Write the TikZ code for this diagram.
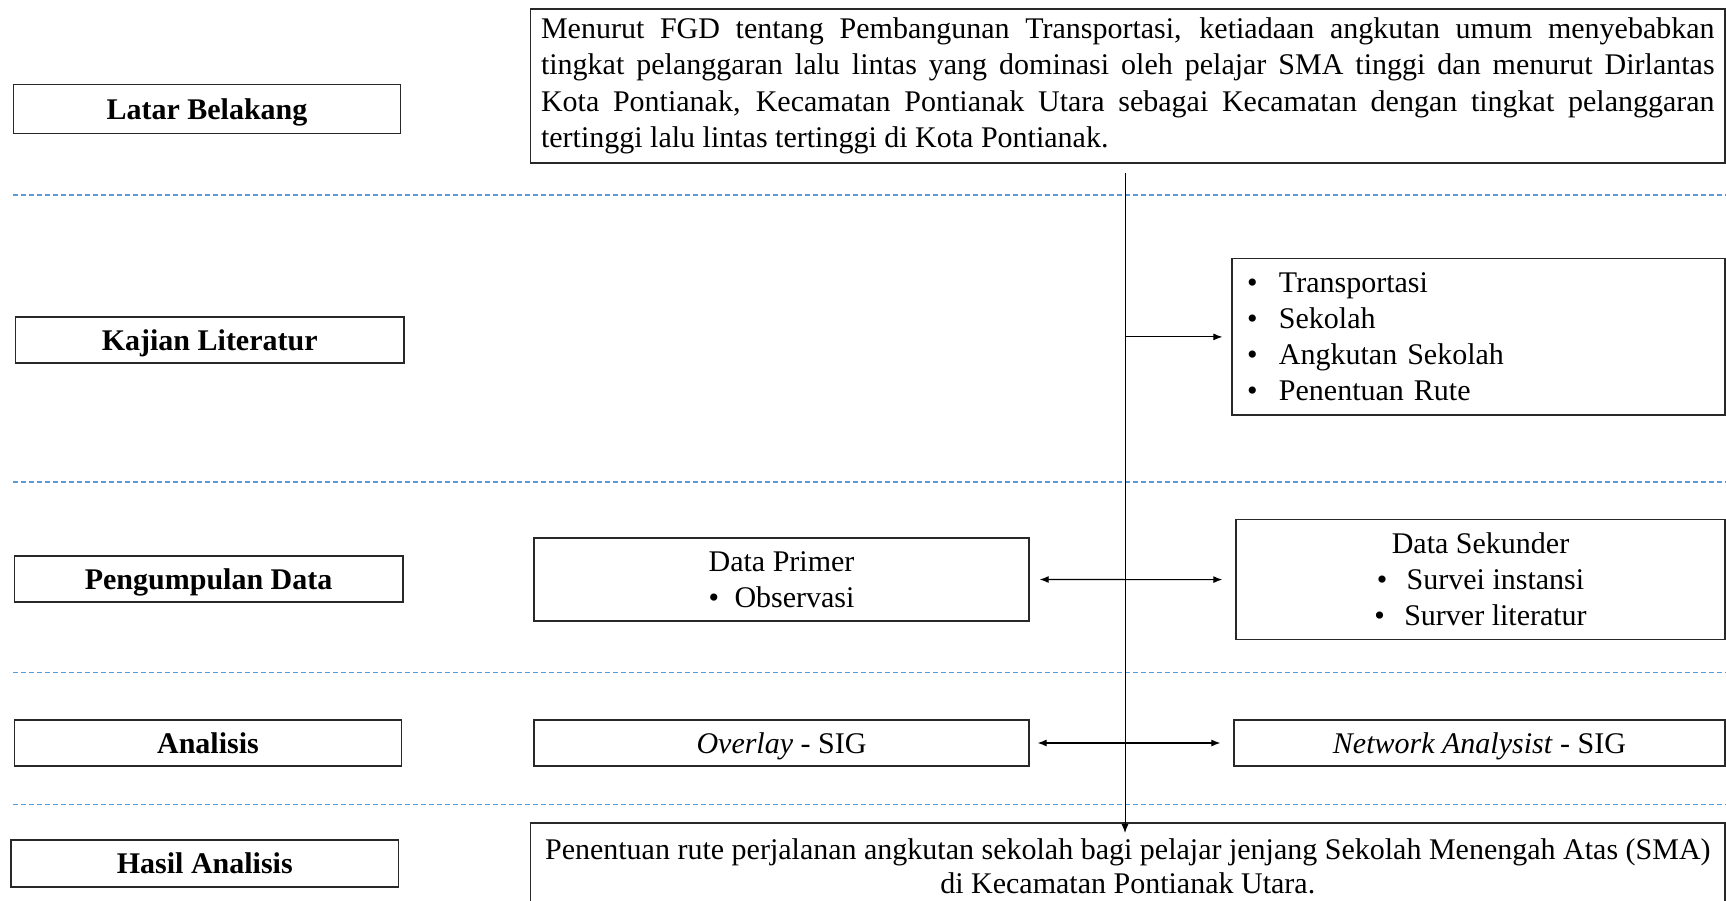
\documentclass[tikz,border=0pt]{standalone}
\usepackage{fontspec}
\setmainfont{Liberation Serif}
\usetikzlibrary{arrows.meta}
\definecolor{dashblue}{RGB}{91,155,213}
\definecolor{boxline}{RGB}{40,40,40}
\tikzset{
  every node/.style={font=\fontsize{30}{36}\selectfont},
  labelbox/.style={draw=boxline, line width=1.3pt, fill=white, inner sep=0pt, align=center, text depth=0pt, font=\fontsize{30}{36}\selectfont\bfseries},
  contentbox/.style={draw=boxline, line width=1.3pt, fill=white, inner sep=0pt, align=center},
  sepline/.style={dashblue, line width=1.2pt, dash pattern=on 5pt off 3pt},
  flow/.style={line width=1pt, -{Latex[length=9pt,width=7pt]}},
  flowboth/.style={line width=1.1pt, {Latex[length=9pt,width=7pt]}-{Latex[length=9pt,width=7pt]}},
}
\newcommand{\bitem}[2]{\makebox[#1][l]{\textbullet}#2}
\newcommand{\jline}[1]{\makebox[1173.5pt][s]{#1}}
\begin{document}
\begin{tikzpicture}[x=1pt,y=-1pt]
\useasboundingbox (0,0) rectangle (1726,901);
\clip (0,0) rectangle (1726,901);
\fill[white] (0,0) rectangle (1726,901);

% separators
\foreach \yy in {195,482,672.6,804.7}
  \draw[sepline] (13,\yy) -- (1726,\yy);

% left labels
\node[labelbox, minimum width=387.5pt, minimum height=48.4pt] (lb) at (207,109) {Latar Belakang};
\node[labelbox, minimum width=388.6pt, minimum height=46.2pt] (kl) at (209.7,340) {Kajian Literatur};
\node[labelbox, minimum width=388.6pt, minimum height=46pt] (pd) at (208.6,579) {Pengumpulan Data};
\node[labelbox, minimum width=387.5pt, minimum height=46pt] (an) at (208,743) {Analisis};
\node[labelbox, minimum width=387.5pt, minimum height=47pt] (ha) at (204.8,863.5) {Hasil Analisis};

% top text
\node[contentbox, inner xsep=10.5pt, text width=1173.5pt, align=justify, minimum height=154pt,
      font=\fontsize{30}{36.5}\selectfont] (top) at (1127.8,85.9) {%
\jline{Menurut FGD tentang Pembangunan Transportasi, ketiadaan angkutan umum menyebabkan}\\
\jline{tingkat pelanggaran lalu lintas yang dominasi oleh pelajar SMA tinggi dan menurut Dirlantas}\\
\jline{Kota Pontianak, Kecamatan Pontianak Utara sebagai Kecamatan dengan tingkat pelanggaran}\\
tertinggi lalu lintas tertinggi di Kota Pontianak.};

% literature list
\node[contentbox, inner xsep=15pt, text width=463pt, align=left, minimum height=156.3pt] (lit) at (1478.5,336.9) {%
\bitem{32pt}{Transportasi}\\
\bitem{32pt}{Sekolah}\\
\bitem{32pt}{Angkutan Sekolah}\\
\bitem{32pt}{Penentuan Rute}};

% data
\node[contentbox, minimum width=495pt, minimum height=83pt] (prim) at (781.5,579.5) {%
Data Primer\\ \bitem{26pt}{Observasi}};
\node[contentbox, minimum width=489pt, minimum height=120pt] (sek) at (1480.5,579.6) {%
Data Sekunder\\ \bitem{30pt}{Survei instansi}\\ \bitem{30pt}{Surver literatur}};

% analysis
\node[contentbox, minimum width=495pt, minimum height=46pt, text depth=0pt] (ov) at (781.5,743) {\textit{Overlay} - SIG};
\node[contentbox, minimum width=491pt, minimum height=46pt, text depth=0pt] (nw) at (1479.5,743) {\textit{Network Analysist} - SIG};

% result
\node[contentbox, minimum width=1194.4pt, minimum height=86pt, font=\fontsize{30}{34}\selectfont] (bot) at (1127.8,866) {%
Penentuan rute perjalanan angkutan sekolah bagi pelajar jenjang Sekolah Menengah Atas (SMA)\\
di Kecamatan Pontianak Utara.};

% connectors
\coordinate (vtop) at (1125,173);
\coordinate (vend) at (1125,833);
\draw[flow] (vtop) -- (vend);
\draw[flow] (vtop |- lit.west) -- ([xshift=-9pt]lit.west);
\draw[flowboth] ([xshift=10pt]prim.east) -- ([xshift=-13pt]sek.west);
\draw[flowboth] ([xshift=8pt]ov.east) -- ([xshift=-13pt]nw.west);
\end{tikzpicture}
\end{document}
